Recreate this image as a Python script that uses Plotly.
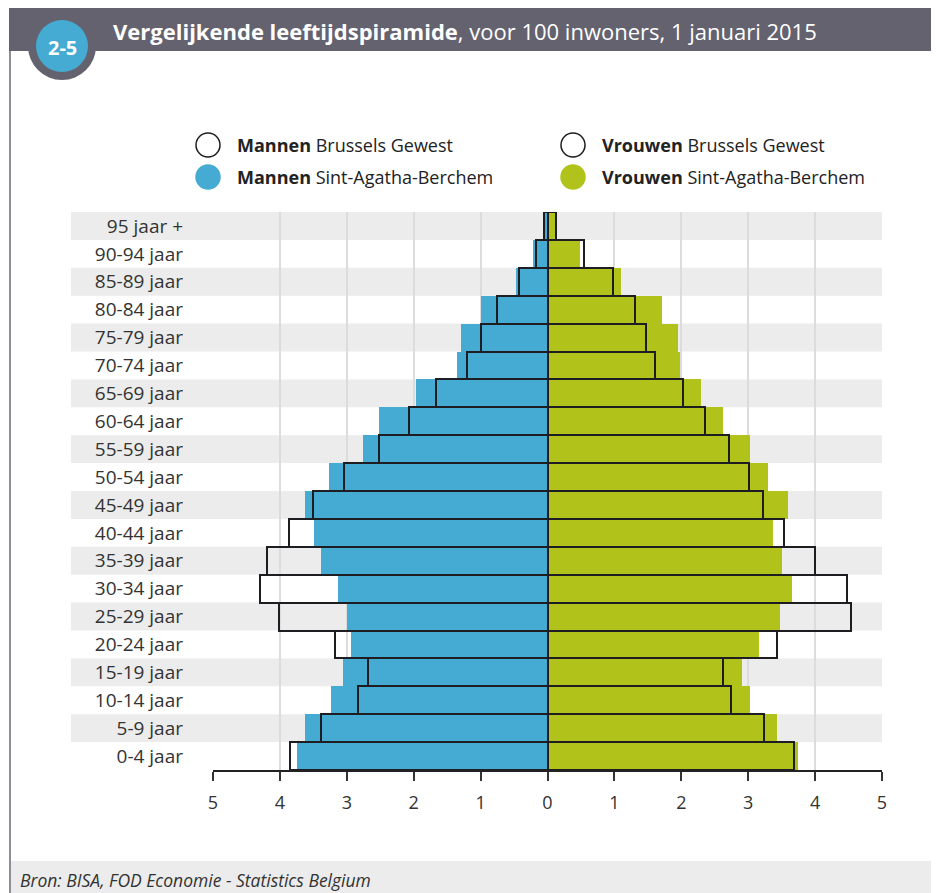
import plotly.graph_objects as go

# Leeftijdsklassen (van onder naar boven)
age_groups = ["0-4 jaar", "5-9 jaar", "10-14 jaar", "15-19 jaar", "20-24 jaar",
              "25-29 jaar", "30-34 jaar", "35-39 jaar", "40-44 jaar", "45-49 jaar",
              "50-54 jaar", "55-59 jaar", "60-64 jaar", "65-69 jaar", "70-74 jaar",
              "75-79 jaar", "80-84 jaar", "85-89 jaar", "90-94 jaar", "95 jaar +"]

# per 100 inwoners
men_sab = [3.74, 3.62, 3.24, 3.06, 2.94, 3.00, 3.13, 3.38, 3.49, 3.62,
           3.27, 2.76, 2.52, 1.96, 1.35, 1.30, 1.00, 0.47, 0.22, 0.04]
men_brussels = [3.85, 3.38, 2.83, 2.68, 3.17, 4.01, 4.30, 4.19, 3.87, 3.50,
                3.04, 2.52, 2.07, 1.67, 1.21, 1.00, 0.76, 0.43, 0.17, 0.05]
women_sab = [3.75, 3.43, 3.02, 2.90, 3.16, 3.47, 3.65, 3.50, 3.37, 3.59,
             3.29, 3.02, 2.62, 2.29, 1.98, 1.95, 1.71, 1.10, 0.48, 0.12]
women_brussels = [3.69, 3.24, 2.74, 2.62, 3.43, 4.53, 4.48, 4.00, 3.54, 3.22,
                  3.01, 2.72, 2.36, 2.03, 1.60, 1.47, 1.31, 0.98, 0.54, 0.12]

tick_vals = [-5, -4, -3, -2, -1, 0, 1, 2, 3, 4, 5]
tick_text = ["5", "4", "3", "2", "1", "0", "1", "2", "3", "4", "5"]

BLUE = "#45abd2"
GREEN = "#b1c31a"
OUTLINE = "#1d1d22"
BAND = "#ebeceb"
HEADER = "#64626f"
FONT = "Open Sans"

# the page body has an 8px margin, so the figure is 8px smaller and all
# reference pixel positions are shifted by that offset
OFF = 8
W, H = 939 - OFF, 893 - OFF
ML, MR, MT, MB = 213 - OFF, 57, 212 - OFF, 123
PW, PH = W - ML - MR, H - MT - MB


def px(x):
    return (x - OFF - ML) / PW


def py(y):
    return (H - MB - (y - OFF)) / PH


fig = go.Figure()

fig.add_trace(go.Bar(y=age_groups, x=[-v for v in men_sab], orientation="h",
                     marker=dict(color=BLUE, line=dict(width=0)), showlegend=False))
fig.add_trace(go.Bar(y=age_groups, x=women_sab, orientation="h",
                     marker=dict(color=GREEN, line=dict(width=0)), showlegend=False))
fig.add_trace(go.Bar(y=age_groups, x=[-v for v in men_brussels], orientation="h",
                     marker=dict(color="rgba(0,0,0,0)", line=dict(color=OUTLINE, width=2)),
                     showlegend=False))
fig.add_trace(go.Bar(y=age_groups, x=women_brussels, orientation="h",
                     marker=dict(color="rgba(0,0,0,0)", line=dict(color=OUTLINE, width=2)),
                     showlegend=False))

shapes = []
n = len(age_groups)
# alternating row bands, reaching into the label area
for i in range(n):
    if (n - 1 - i) % 2 == 0:
        shapes.append(dict(type="rect", xref="paper", yref="paper",
                           x0=px(71), x1=1, y0=i / n, y1=(i + 1) / n,
                           fillcolor=BAND, line=dict(width=0), layer="below"))

# header bar, frame, footer
shapes += [
    dict(type="rect", xref="paper", yref="paper", x0=px(9), x1=px(945),
         y0=py(51), y1=py(7), fillcolor=HEADER, line=dict(width=0), layer="below"),
    dict(type="line", xref="paper", yref="paper", x0=px(9), x1=px(945),
         y0=py(6.5), y1=py(6.5), line=dict(color="#d0d0d4", width=1), layer="below"),
    dict(type="line", xref="paper", yref="paper", x0=px(10), x1=px(10),
         y0=py(51), y1=py(900), line=dict(color="#8e8d98", width=2), layer="below"),
    dict(type="rect", xref="paper", yref="paper", x0=px(11), x1=px(945),
         y0=py(900), y1=py(861), fillcolor=BAND, line=dict(width=0), layer="below"),
    # badge
    dict(type="circle", xref="paper", yref="paper", xsizemode="pixel", ysizemode="pixel",
         xanchor=px(62), yanchor=py(46), x0=-34, x1=34, y0=-34, y1=34,
         fillcolor=HEADER, line=dict(width=0), layer="above"),
    dict(type="circle", xref="paper", yref="paper", xsizemode="pixel", ysizemode="pixel",
         xanchor=px(62), yanchor=py(46), x0=-26, x1=26, y0=-26, y1=26,
         fillcolor=BLUE, line=dict(width=0), layer="above"),
]

# legend symbols
for cx, cy, fill in [(208, 145, "white"), (208, 177, BLUE),
                     (573, 145, "white"), (573, 177, GREEN)]:
    shapes.append(dict(type="circle", xref="paper", yref="paper",
                       xsizemode="pixel", ysizemode="pixel",
                       xanchor=px(cx), yanchor=py(cy), x0=-12, x1=12, y0=-12, y1=12,
                       fillcolor=fill,
                       line=dict(color=OUTLINE if fill == "white" else fill, width=1.5)))

annotations = [
    dict(text="2-5", x=px(62), y=py(47), xref="paper", yref="paper", showarrow=False,
         xanchor="center", yanchor="middle",
         font=dict(family=FONT, size=20, color="white", weight="bold")),
    dict(text="<b>Vergelijkende leeftijdspiramide</b>, voor 100 inwoners, 1 januari 2015",
         x=px(111), y=py(31), xref="paper", yref="paper", showarrow=False,
         xanchor="left", yanchor="middle",
         font=dict(family=FONT, size=22, color="white")),
    dict(text="<i>Bron: BISA, FOD Economie - Statistics Belgium</i>",
         x=px(18), y=py(880), xref="paper", yref="paper", showarrow=False,
         xanchor="left", yanchor="middle",
         font=dict(family=FONT, size=17.5, color="#333333")),
]
for tx, ty, label in [(235, 145, "<b>Mannen</b> Brussels Gewest"),
                      (235, 177, "<b>Mannen</b> Sint-Agatha-Berchem"),
                      (600, 145, "<b>Vrouwen</b> Brussels Gewest"),
                      (600, 177, "<b>Vrouwen</b> Sint-Agatha-Berchem")]:
    annotations.append(dict(text=label, x=px(tx), y=py(ty), xref="paper", yref="paper",
                            showarrow=False, xanchor="left", yanchor="middle",
                            font=dict(family=FONT, size=18, color="#222222")))

fig.update_layout(
    barmode="overlay",
    bargap=0,
    autosize=False,
    width=W,
    height=H,
    margin=dict(l=ML, r=MR, t=MT, b=MB, pad=0),
    paper_bgcolor="white",
    plot_bgcolor="rgba(0,0,0,0)",
    font=dict(family=FONT, size=17, color="#333333"),
    shapes=shapes,
    annotations=annotations,
    xaxis=dict(range=[-5, 5], tickvals=tick_vals, ticktext=tick_text,
               showgrid=True, gridcolor="#dcdcdc", gridwidth=2,
               zeroline=True, zerolinecolor=OUTLINE, zerolinewidth=3,
               showline=True, linecolor="#222222", linewidth=2,
               ticks="outside", ticklen=9, tickwidth=1.5, tickcolor="#333333",
               ticklabelstandoff=6,
               tickfont=dict(family=FONT, size=18, color="#333333"),
               fixedrange=True),
    yaxis=dict(type="category", categoryorder="array", categoryarray=age_groups,
               range=[-0.5, n - 0.5], showgrid=False, zeroline=False, showline=False,
               ticks="", ticklabelstandoff=29,
               tickfont=dict(size=19, color="#333333"), fixedrange=True),
)

fig.write_html("out.html")
